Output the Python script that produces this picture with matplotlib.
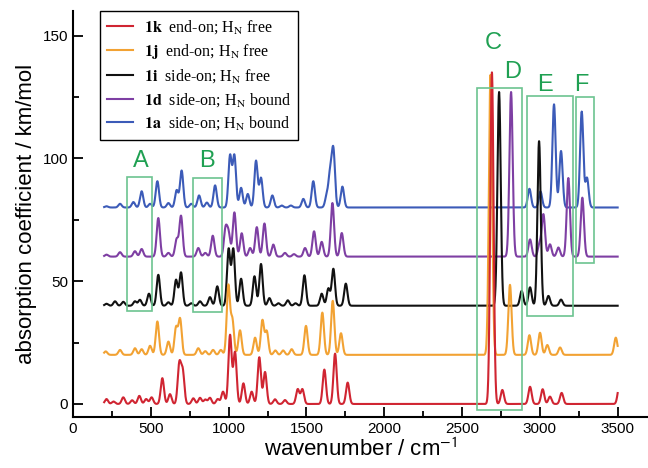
import numpy as np
import matplotlib
matplotlib.use("Agg")
import matplotlib.pyplot as plt
from matplotlib.lines import Line2D
from matplotlib.patches import Rectangle
from matplotlib.ticker import MultipleLocator

plt.rcParams['font.family'] = ['Liberation Sans', 'DejaVu Sans']
plt.rcParams['mathtext.fontset'] = 'stix'

# peak positions (cm^-1) and heights (km/mol)
pos_1k = [215, 260, 323, 380, 426, 470, 505, 574, 623, 683, 705, 773, 816, 850, 880, 930, 964,
          1009, 1041, 1095, 1148, 1197, 1234, 1298, 1362, 1444, 1474, 1615, 1684, 1765,
          2692, 2759, 2937, 3018, 3065, 3140, 3510]
int_1k = [2.0, 1.0, 2.7, 1.5, 3.3, 2.0, 2.7, 10.5, 4.0, 16, 13, 2.3, 2.5, 1.8, 2.5, 2.0, 5.0,
          28, 21, 8.4, 5.0, 19, 13, 1.9, 1.6, 6.0, 6.0, 14, 20.5, 8.7,
          135, 5.7, 7.0, 6.0, 3.0, 4.5, 7.0]

pos_1j = [210, 302, 398, 441, 495, 542, 613, 662, 688, 805, 850, 900, 950,
          998, 1024, 1073, 1170, 1217, 1245, 1300, 1350, 1405, 1497, 1602, 1669, 1722,
          2683, 2808, 2933, 3001, 3048, 3130, 3488]
int_1j = [1.4, 2.0, 2.7, 2.3, 3.7, 13.6, 5.4, 11, 14.5, 2.7, 1.5, 2.0, 2.0,
          28, 14, 10, 7, 14, 9.5, 1.8, 1.8, 2.3, 11.8, 17.2, 22, 8.8,
          114, 28.5, 8.0, 9.0, 4.0, 3.0, 7.0]

pos_1i = [215, 270, 323, 398, 430, 488, 548, 613, 662, 694, 760, 816, 880, 927,
          1000, 1030, 1080, 1166, 1208, 1262, 1320, 1380, 1430, 1487, 1598, 1641, 1673, 1753,
          2738, 2883, 2937, 2995, 3055, 3136]
int_1i = [0.8, 1.8, 1.6, 1.8, 2.4, 4.9, 12.6, 1.4, 10.5, 13.5, 1.0, 1.8, 3.5, 7.9,
          23, 23, 11, 12, 17, 3.1, 1.0, 2.2, 1.0, 12.4, 4.9, 7.0, 15, 9.0,
          87, 6.0, 7.5, 67, 4.0, 2.5]

pos_1d = [215, 302, 398, 441, 548, 613, 666, 694, 805, 850, 898,
          980, 1000, 1037, 1084, 1138, 1181, 1230, 1287, 1362, 1420, 1491, 1549, 1598, 1667, 1727,
          2815, 2937, 2998, 3023, 3065, 3119, 3183, 3273]
int_1d = [0.8, 1.8, 2.2, 3.1, 15.7, 1.5, 7.0, 16.5, 3.5, 1.5, 8.5,
          11, 9, 18, 9.5, 3.5, 12, 13.5, 4.9, 1.5, 1.0, 3.5, 10.3, 6.0, 21.8, 9.6,
          67, 7.0, 5.0, 17, 5.0, 3.7, 32, 24]

pos_1a = [215, 302, 388, 441, 495, 542, 613, 666, 698, 760, 810, 860, 913,
          1009, 1037, 1080, 1123, 1176, 1208, 1281, 1341, 1400, 1480, 1544, 1630, 1652, 1673, 1731,
          2933, 3004, 3091, 3136, 3269, 3303]
int_1a = [0.5, 1.5, 2.2, 6.6, 1.5, 10.7, 1.8, 7.0, 15, 1.5, 4.9, 2.0, 9.0,
          21, 21, 8.0, 5.5, 19, 12, 4.9, 0.8, 0.8, 3.5, 10.7, 4.5, 13, 23, 8.5,
          7.6, 6.5, 42, 23, 39, 12]

labels = [r'$\mathbf{1k}$  end-on; H$_\mathrm{N}$ free',
          r'$\mathbf{1j}$  end-on; H$_\mathrm{N}$ free',
          r'$\mathbf{1i}$  side-on; H$_\mathrm{N}$ free',
          r'$\mathbf{1d}$  side-on; H$_\mathrm{N}$ bound',
          r'$\mathbf{1a}$  side-on; H$_\mathrm{N}$ bound']
offsets = [0, 20, 40, 60, 80]
colors = ['#d02532', '#f2a233', '#111111', '#7e3fa3', '#3c5bb8']

# marked regions: name, x0, x1, y0, y1, label x, label y
box_names = ['A', 'B', 'C', 'D', 'E', 'F']
box_x0 = [350, 770, 2594, None, 2920, 3233]
box_x1 = [510, 955, 2883, None, 3215, 3350]
box_y0 = [38, 37.6, -2.4, None, 36, 57.3]
box_y1 = [92.5, 92, 128.5, None, 125.4, 125]
label_x = [436, 859, 2700, 2828, 3033, 3269]
label_y = [99, 99, 147, 135, 130, 130]

x = np.linspace(200, 3500, 3301)
sigma = 10.5


def spectrum(pos, inten):
    y = np.zeros_like(x)
    for p, h in zip(pos, inten):
        y += h * np.exp(-0.5 * ((x - p) / sigma) ** 2)
    return y


peaks = [(pos_1k, int_1k), (pos_1j, int_1j), (pos_1i, int_1i),
         (pos_1d, int_1d), (pos_1a, int_1a)]

fig = plt.figure(figsize=(6.48, 4.68), dpi=100)
ax = fig.add_axes([0.1127, 0.109, 0.8873, 0.8675])

for i in reversed(range(5)):
    pos, inten = peaks[i]
    ax.plot(x, spectrum(pos, inten) + offsets[i], color=colors[i], lw=1.5, zorder=3 + (5 - i) * 0.1)

green_box = '#6cc490'
green_txt = '#1fa052'
for n, x0, x1, y0, y1 in zip(box_names, box_x0, box_x1, box_y0, box_y1):
    if x0 is None:
        continue
    ax.add_patch(Rectangle((x0, y0), x1 - x0, y1 - y0, fill=False,
                           edgecolor=green_box, lw=1.2, zorder=5))
for n, lx, ly in zip(box_names, label_x, label_y):
    ax.text(lx, ly, n, color=green_txt, fontsize=17, ha='center', va='center', zorder=6)

ax.set_xlim(0, 3695)
ax.set_ylim(-5.3, 160)
ax.xaxis.set_major_locator(MultipleLocator(500))
ax.xaxis.set_minor_locator(MultipleLocator(250))
ax.yaxis.set_major_locator(MultipleLocator(50))
ax.yaxis.set_minor_locator(MultipleLocator(25))
ax.tick_params(which='both', direction='in', width=1.3, labelsize=11)
ax.tick_params(which='major', length=7)
ax.tick_params(which='minor', length=4)
for s in ['top', 'right']:
    ax.spines[s].set_visible(False)
for s in ['left', 'bottom']:
    ax.spines[s].set_linewidth(1.5)

ax.set_xlabel(r'wavenumber / cm$^{\mathsf{-1}}$', fontsize=16, labelpad=2)
ax.set_ylabel('absorption coefficient / km/mol', fontsize=16, labelpad=4)

handles = [Line2D([], [], color=c, lw=1.5) for c in colors]
leg = ax.legend(handles, labels, loc='upper left', bbox_to_anchor=(0.047, 1.0),
                borderaxespad=0, fancybox=False, framealpha=1, edgecolor='black',
                prop={'family': 'Liberation Serif', 'size': 11.5},
                handlelength=1.6, handletextpad=0.7, labelspacing=0.38, borderpad=0.45)
leg.get_frame().set_linewidth(1.0)
leg.set_zorder(10)

fig.savefig('out.png', dpi=100)
